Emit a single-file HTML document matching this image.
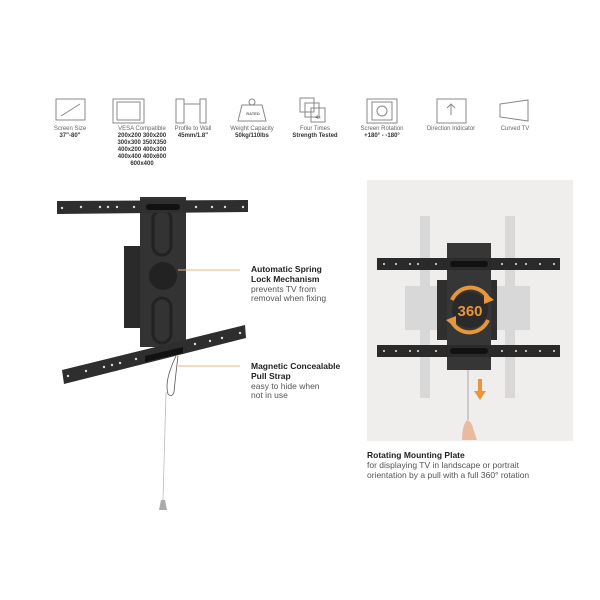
<!DOCTYPE html>
<html><head><meta charset="utf-8"><style>
body{margin:0;background:#fff;}
svg{display:block;font-family:"Liberation Sans",sans-serif;}
.l{font-size:6px;fill:#666;text-anchor:middle}
.b{font-size:6px;fill:#333;font-weight:bold;text-anchor:middle}
.h{font-size:8.5px;font-weight:bold;fill:#222}
.t{font-size:8.5px;fill:#555}
</style></head><body>
<svg width="600" height="600" viewBox="0 0 600 600">
<rect width="600" height="600" fill="#fff"/>
<!-- icons -->
<g fill="none" stroke="#888" stroke-width="1">
<rect x="56" y="99" width="29" height="21"/><line x1="61" y1="116" x2="80" y2="104"/>
<rect x="113" y="99" width="31" height="24"/><rect x="117" y="102" width="23" height="18"/>
<rect x="176" y="99" width="8" height="24"/><line x1="184" y1="104" x2="200" y2="104"/><rect x="200" y="99" width="6" height="24"/>
<path d="M242 105 h20 l4 16 h-28 z"/><circle cx="252" cy="102" r="3"/>
<rect x="300" y="98" width="14" height="14"/><rect x="305" y="103" width="14" height="14"/><rect x="311" y="108" width="14" height="14"/>
<rect x="367" y="99" width="30" height="24"/><rect x="372" y="102" width="20" height="18"/><circle cx="382" cy="111" r="5"/>
<rect x="437" y="99" width="29" height="24"/><path d="M451 115 v-10 M447 108 l4-4 4 4"/>
<path d="M500 104 l28-4 v21 l-28-4 z"/>
</g>
<text x="253" y="115" font-size="4" fill="#666" text-anchor="middle" font-weight="bold">RATED</text>
<text x="318" y="119" font-size="5" fill="#666" text-anchor="middle">4x</text>
<text class="l" x="70" y="130">Screen Size</text><text class="b" x="70" y="137">37"-80"</text>
<text class="l" x="142" y="130">VESA Compatible</text>
<text class="b" x="142" y="137">200x200 300x200</text><text class="b" x="142" y="144">300x300 350X350</text>
<text class="b" x="142" y="151">400x200 400x300</text><text class="b" x="142" y="158">400x400 400x600</text>
<text class="b" x="142" y="165">600x400</text>
<text class="l" x="193" y="130">Profile to Wall</text><text class="b" x="193" y="137">45mm/1.8"</text>
<text class="l" x="252" y="130">Weight Capacity</text><text class="b" x="252" y="137">50kg/110lbs</text>
<text class="l" x="315" y="130">Four Times</text><text class="b" x="315" y="137">Strength Tested</text>
<text class="l" x="382" y="130">Screen Rotation</text><text class="b" x="382" y="137">+180° - -180°</text>
<text class="l" x="451" y="130">Direction Indicator</text>
<text class="l" x="515" y="130">Curved TV</text>
<!-- left mount -->
<rect x="124" y="246" width="18" height="82" fill="#2a2a2a"/>
<rect x="140" y="197" width="46" height="150" fill="#333"/>
<rect x="153" y="210" width="18" height="45" rx="9" fill="none" stroke="#222" stroke-width="3"/>
<rect x="153" y="298" width="18" height="45" rx="9" fill="none" stroke="#222" stroke-width="3"/>
<circle cx="163" cy="276" r="14" fill="#222"/>
<polygon points="57,201 248,200 248,212 57,214" fill="#2e2e2e"/>
<g fill="#ddd"><circle cx="62" cy="208" r="1.2"/><circle cx="81" cy="207" r="1.2"/><circle cx="100" cy="207" r="1.2"/><circle cx="108" cy="207" r="1.2"/><circle cx="117" cy="207" r="1.2"/><circle cx="134" cy="207" r="1.2"/><circle cx="196" cy="207" r="1.2"/><circle cx="212" cy="207" r="1.2"/><circle cx="225" cy="207" r="1.2"/><circle cx="243" cy="207" r="1.2"/></g>
<rect x="146" y="204" width="34" height="6" rx="3" fill="#111"/>
<polygon points="62,370 245,325 246,338 64,384" fill="#2e2e2e"/>
<g fill="#ddd"><circle cx="68" cy="376" r="1.2"/><circle cx="86" cy="371" r="1.2"/><circle cx="104" cy="367" r="1.2"/><circle cx="112" cy="365" r="1.2"/><circle cx="120" cy="363" r="1.2"/><circle cx="136" cy="359" r="1.2"/><circle cx="195" cy="344" r="1.2"/><circle cx="210" cy="341" r="1.2"/><circle cx="222" cy="338" r="1.2"/><circle cx="240" cy="333" r="1.2"/></g>
<polygon points="145,356 183,347 183,353 145,362" fill="#111"/>
<path d="M176 356 q-12 25 -8 38 q4 4 6 -2 q2 -20 4 -36" fill="none" stroke="#555" stroke-width="0.8"/>
<line x1="166" y1="392" x2="163" y2="500" stroke="#bbb" stroke-width="0.8"/>
<polygon points="161,500 165,500 167,510 159,510" fill="#aaa"/>
<line x1="178" y1="270" x2="240" y2="270" stroke="#e9b57e" stroke-width="1"/>
<line x1="178" y1="366" x2="240" y2="366" stroke="#e9b57e" stroke-width="1"/>
<text class="h" x="251" y="272">Automatic Spring</text><text class="h" x="251" y="282">Lock Mechanism</text>
<text class="t" x="251" y="292">prevents TV from</text><text class="t" x="251" y="301">removal when fixing</text>
<text class="h" x="251" y="369">Magnetic Concealable</text><text class="h" x="251" y="379">Pull Strap</text>
<text class="t" x="251" y="389">easy to hide when</text><text class="t" x="251" y="398">not in use</text>
<!-- right panel -->
<rect x="367" y="180" width="206" height="261" fill="#efeeed"/>
<g fill="#d8d8d8"><rect x="420" y="216" width="10" height="182"/><rect x="505" y="216" width="10" height="182"/><rect x="405" y="286" width="125" height="44"/></g>
<rect x="437" y="280" width="60" height="60" fill="#2f2f2f"/>
<rect x="447" y="243" width="44" height="127" fill="#363636"/>
<rect x="377" y="258" width="183" height="12" fill="#2a2a2a"/>
<rect x="377" y="345" width="183" height="12" fill="#2a2a2a"/>
<g fill="#ccc"><circle cx="384" cy="264" r="1.1"/><circle cx="396" cy="264" r="1.1"/><circle cx="410" cy="264" r="1.1"/><circle cx="418" cy="264" r="1.1"/><circle cx="436" cy="264" r="1.1"/><circle cx="502" cy="264" r="1.1"/><circle cx="516" cy="264" r="1.1"/><circle cx="526" cy="264" r="1.1"/><circle cx="540" cy="264" r="1.1"/><circle cx="554" cy="264" r="1.1"/>
<circle cx="384" cy="351" r="1.1"/><circle cx="396" cy="351" r="1.1"/><circle cx="410" cy="351" r="1.1"/><circle cx="418" cy="351" r="1.1"/><circle cx="436" cy="351" r="1.1"/><circle cx="502" cy="351" r="1.1"/><circle cx="516" cy="351" r="1.1"/><circle cx="526" cy="351" r="1.1"/><circle cx="540" cy="351" r="1.1"/><circle cx="554" cy="351" r="1.1"/></g>
<rect x="450" y="261" width="38" height="6" rx="3" fill="#111"/><rect x="450" y="348" width="38" height="6" rx="3" fill="#111"/>
<circle cx="470" cy="310" r="18" fill="#2a2a2a"/>
<path d="M452 300 a20 20 0 0 1 36 -2" fill="none" stroke="#e8963a" stroke-width="4"/>
<path d="M488 320 a20 20 0 0 1 -36 2" fill="none" stroke="#e8963a" stroke-width="4"/>
<polygon points="484,292 494,300 484,304" fill="#e8963a"/><polygon points="456,328 446,320 456,316" fill="#e8963a"/>
<text x="470" y="316" font-size="15" font-weight="bold" fill="#e8963a" text-anchor="middle">360</text>
<line x1="468" y1="370" x2="468" y2="420" stroke="#777" stroke-width="0.6"/>
<rect x="478" y="379" width="4" height="12" fill="#e8963a"/><polygon points="474,391 486,391 480,400" fill="#e8963a"/>
<path d="M462 440 q0-14 5-20 q5 2 6 8 q2 6 4 12 z" fill="#e9b9a0"/>
<text class="h" x="367" y="458">Rotating Mounting Plate</text>
<text class="t" x="367" y="468">for displaying TV in landscape or portrait</text>
<text class="t" x="367" y="478">orientation by a pull with a full 360° rotation</text>
</svg>
</body></html>
